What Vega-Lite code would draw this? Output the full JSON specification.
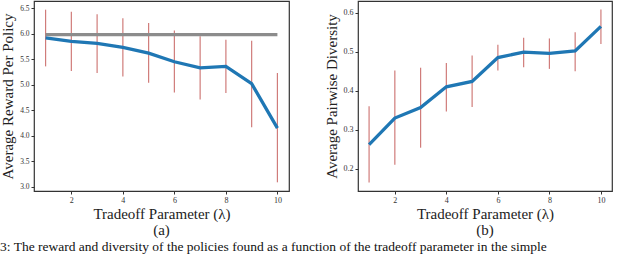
{
  "$schema": "https://vega.github.io/schema/vega-lite/v6.json",
  "padding": {"left": 0, "top": 0, "right": 0, "bottom": 0},
  "background": "white",
  "datasets": {
    "reward": [
      {"lam": 1, "mean": 5.92, "lo": 5.36, "hi": 6.47},
      {"lam": 2, "mean": 5.85, "lo": 5.27, "hi": 6.43},
      {"lam": 3, "mean": 5.81, "lo": 5.23, "hi": 6.38},
      {"lam": 4, "mean": 5.73, "lo": 5.16, "hi": 6.30},
      {"lam": 5, "mean": 5.62, "lo": 5.04, "hi": 6.21},
      {"lam": 6, "mean": 5.45, "lo": 4.85, "hi": 6.06},
      {"lam": 7, "mean": 5.33, "lo": 4.71, "hi": 5.95},
      {"lam": 8, "mean": 5.36, "lo": 4.84, "hi": 5.88},
      {"lam": 9, "mean": 5.02, "lo": 4.17, "hi": 5.86},
      {"lam": 10, "mean": 4.15, "lo": 3.09, "hi": 5.23}
    ],
    "base": [{"x1": 1, "x2": 10, "y": 5.98}],
    "diversity": [
      {"lam": 1, "mean": 0.262, "lo": 0.165, "hi": 0.360},
      {"lam": 2, "mean": 0.330, "lo": 0.210, "hi": 0.452},
      {"lam": 3, "mean": 0.357, "lo": 0.254, "hi": 0.459},
      {"lam": 4, "mean": 0.410, "lo": 0.347, "hi": 0.471},
      {"lam": 5, "mean": 0.424, "lo": 0.358, "hi": 0.490},
      {"lam": 6, "mean": 0.485, "lo": 0.452, "hi": 0.518},
      {"lam": 7, "mean": 0.499, "lo": 0.460, "hi": 0.536},
      {"lam": 8, "mean": 0.496, "lo": 0.456, "hi": 0.534},
      {"lam": 9, "mean": 0.502, "lo": 0.450, "hi": 0.550},
      {"lam": 10, "mean": 0.565, "lo": 0.520, "hi": 0.608}
    ]
  },
  "title": {
    "text": "3: The reward and diversity of the policies found as a function of the tradeoff parameter in the simple",
    "orient": "bottom",
    "anchor": "start",
    "font": "Liberation Serif",
    "fontSize": 13.5,
    "fontWeight": "normal",
    "color": "#111",
    "offset": 1
  },
  "spacing": 33,
  "hconcat": [
    {
      "width": 255,
      "height": 190,
      "title": {"text": "(a)", "orient": "bottom", "offset": 2},
      "encoding": {
        "x": {"type": "quantitative", "scale": {"domain": [0.55, 10.45], "nice": false, "zero": false}, "axis": {"values": [2, 4, 6, 8, 10], "title": "Tradeoff Parameter (λ)"}},
        "y": {"type": "quantitative", "scale": {"domain": [2.92, 6.64], "nice": false, "zero": false}, "axis": {"values": [3, 3.5, 4, 4.5, 5, 5.5, 6, 6.5], "labelExpr": "format(datum.value, '.1f')", "labelOverlap": false, "labelSeparation": 0, "labelFlush": false, "labelBound": false, "labelFontSize": 7.5, "title": "Average Reward Per Policy"}}
      },
      "layer": [
        {
          "data": {"name": "reward"},
          "mark": {"type": "rule", "color": "#c0504d", "strokeWidth": 1.2, "opacity": 0.75},
          "encoding": {
            "x": {"field": "lam"},
            "y": {"field": "lo"},
            "y2": {"field": "hi"}
          }
        },
        {
          "data": {"name": "base"},
          "mark": {"type": "rule", "color": "#8c8c8c", "strokeWidth": 3.2},
          "encoding": {
            "x": {"field": "x1"},
            "x2": {"field": "x2"},
            "y": {"field": "y"}
          }
        },
        {
          "data": {"name": "reward"},
          "mark": {"type": "line", "color": "#1f77b4", "strokeWidth": 3.3},
          "encoding": {
            "x": {"field": "lam"},
            "y": {"field": "mean"}
          }
        }
      ]
    },
    {
      "width": 254,
      "height": 190,
      "title": {"text": "(b)", "orient": "bottom", "offset": 2},
      "data": {"name": "diversity"},
      "encoding": {
        "x": {"field": "lam", "type": "quantitative", "scale": {"domain": [0.57, 10.43], "nice": false, "zero": false}, "axis": {"values": [2, 4, 6, 8, 10], "title": "Tradeoff Parameter (λ)"}},
        "y": {"type": "quantitative", "scale": {"domain": [0.143, 0.63], "nice": false, "zero": false}, "axis": {"values": [0.2, 0.3, 0.4, 0.5, 0.6], "format": ".1f", "labelOverlap": false, "title": "Average Pairwise Diversity"}}
      },
      "layer": [
        {
          "mark": {"type": "rule", "color": "#c0504d", "strokeWidth": 1.2, "opacity": 0.75},
          "encoding": {
            "y": {"field": "lo"},
            "y2": {"field": "hi"}
          }
        },
        {
          "mark": {"type": "line", "color": "#1f77b4", "strokeWidth": 3.3},
          "encoding": {
            "y": {"field": "mean"}
          }
        }
      ]
    }
  ],
  "config": {
    "view": {"stroke": "#333", "strokeWidth": 1.2},
    "title": {"font": "Liberation Serif", "fontSize": 15, "fontWeight": "normal", "color": "#222"},
    "axis": {
      "domain": false,
      "grid": false,
      "ticks": true,
      "tickSize": 3,
      "tickColor": "#333",
      "labelFont": "Liberation Serif",
      "labelFontSize": 8,
      "labelColor": "#333",
      "labelPadding": 2,
      "labelOverlap": false,
      "titleFont": "Liberation Serif",
      "titleFontSize": 15,
      "titleFontWeight": "normal",
      "titleColor": "#222"
    },
    "axisY": {"titlePadding": 4, "labelOverlap": false},
    "axisQuantitative": {"labelOverlap": false},
    "axisX": {"titlePadding": 2}
  }
}
